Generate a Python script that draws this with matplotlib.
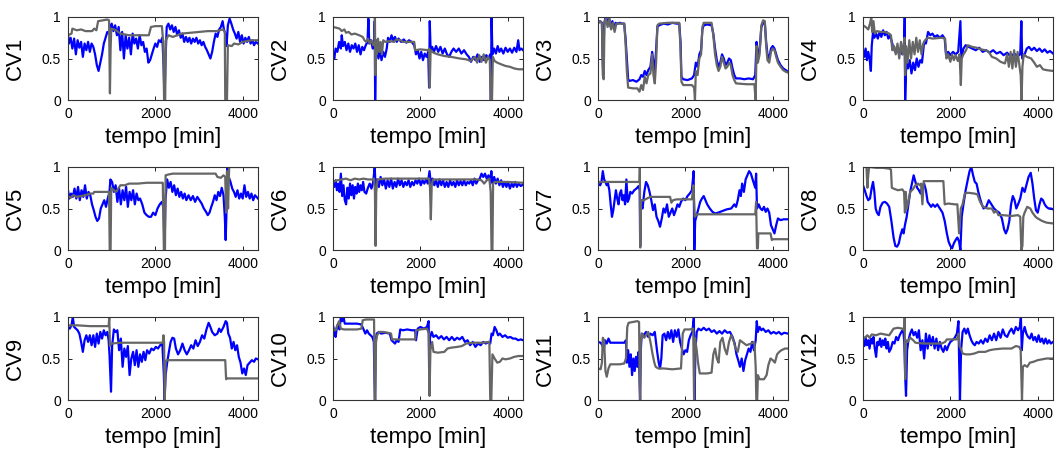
import numpy as np
import matplotlib.pyplot as plt

plt.rcParams['font.family'] = ['Liberation Sans', 'DejaVu Sans']

# (tempo [min], valor normalizado) - azul: medido, cinza: referencia
cv1_med = [(0,.78),(20,.68),(60,.75),(100,.62),(140,.74),(180,.55),(220,.72),(260,.63),(300,.70),(340,.52),(380,.68),(420,.60),(460,.70),(500,.58),(540,.68),(580,.64),(620,.55),(660,.42),(700,.35),(740,.45),(780,.55),(820,.68),(860,.75),(900,.82),(940,.80),(970,.88),(1000,.92),(1040,.83),(1080,.90),(1120,.78),(1160,.88),(1200,.60),(1240,.82),(1280,.50),(1320,.78),(1360,.62),(1400,.75),(1440,.55),(1480,.80),(1520,.68),(1560,.74),(1600,.62),(1640,.78),(1680,.66),(1720,.70),(1760,.58),(1800,.62),(1840,.45),(1880,.48),(1920,.55),(1960,.62),(2000,.68),(2040,.64),(2080,.72),(2120,.70),(2160,.75),(2190,.40),(2210,0),(2230,.45),(2260,.88),(2300,.92),(2340,.85),(2380,.90),(2420,.82),(2460,.88),(2500,.78),(2540,.84),(2580,.75),(2620,.80),(2660,.70),(2700,.76),(2740,.70),(2780,.75),(2820,.68),(2860,.74),(2900,.70),(2940,.75),(2980,.68),(3020,.72),(3060,.66),(3100,.70),(3140,.64),(3180,.60),(3220,.55),(3260,.50),(3300,.58),(3340,.70),(3380,.80),(3420,.76),(3460,.85),(3500,.88),(3540,.95),(3570,.85),(3600,.80),(3630,.65),(3660,.90),(3700,.98),(3740,.92),(3780,.85),(3820,.80),(3860,.74),(3900,.82),(3940,.70),(3980,.78),(4020,.68),(4060,.75),(4100,.70),(4140,.76),(4180,.68),(4220,.72),(4260,.66),(4300,.70),(4350,.68)]
cv1_ref = [(0,.78),(80,.80),(100,.86),(200,.84),(300,.85),(400,.83),(550,.83),(600,.86),(650,.84),(690,.95),(800,.96),(900,.97),(940,.96),(950,.5),(960,.08),(975,.6),(990,.86),(1100,.84),(1200,.80),(1400,.78),(1600,.78),(1850,.78),(1900,.88),(2000,.89),(2150,.89),(2180,.70),(2200,0),(2225,0),(2240,.72),(2300,.78),(2400,.76),(2600,.80),(2800,.81),(3000,.82),(3200,.83),(3400,.83),(3550,.85),(3590,.82),(3600,0),(3640,0),(3660,.66),(3750,.65),(3800,.68),(3900,.67),(4000,.70),(4200,.72),(4350,.72)]

cv2_med = [(0,.55),(30,.50),(60,.62),(100,.58),(140,.70),(180,.62),(200,.78),(230,.65),(270,.70),(310,.60),(350,.68),(390,.58),(430,.66),(470,.62),(510,.68),(550,.58),(590,.66),(630,.55),(670,.64),(710,.60),(750,.66),(790,.70),(810,.98),(830,.68),(870,.72),(910,.62),(940,.70),(955,.95),(965,0),(980,.55),(1010,.62),(1040,.50),(1080,.60),(1110,.48),(1150,.58),(1190,.52),(1230,.62),(1260,.75),(1300,.70),(1340,.78),(1380,.72),(1420,.76),(1460,.70),(1500,.74),(1560,.70),(1620,.73),(1680,.69),(1740,.72),(1800,.70),(1860,.66),(1900,.55),(1940,.60),(1980,.50),(2020,.58),(2060,.48),(2100,.56),(2140,.52),(2180,.58),(2200,.15),(2215,.95),(2235,.60),(2270,.64),(2310,.58),(2360,.65),(2410,.58),(2460,.64),(2510,.56),(2560,.62),(2610,.55),(2660,.52),(2710,.58),(2760,.62),(2820,.58),(2880,.62),(2940,.56),(3000,.60),(3060,.55),(3110,.52),(3160,.46),(3210,.52),(3260,.48),(3310,.55),(3360,.46),(3410,.52),(3460,.48),(3510,.54),(3560,.50),(3600,.55),(3615,0),(3630,1.0),(3650,.55),(3690,.62),(3730,.56),(3770,.65),(3810,.58),(3850,.62),(3900,.56),(3950,.63),(4000,.58),(4050,.62),(4100,.57),(4150,.63),(4200,.58),(4240,.72),(4270,.60),(4310,.62),(4350,.60)]
cv2_ref = [(0,.88),(80,.87),(150,.86),(200,.83),(260,.85),(300,.81),(360,.82),(420,.79),(500,.80),(600,.78),(680,.76),(720,.72),(760,.70),(800,.74),(840,.68),(880,.72),(920,.66),(950,.70),(960,1.0),(970,.30),(985,.72),(1000,.55),(1030,.74),(1060,.58),(1090,.70),(1120,.55),(1150,.72),(1200,.70),(1300,.71),(1400,.70),(1450,.73),(1550,.72),(1600,.70),(1860,.70),(1880,.60),(2000,.61),(2180,.60),(2200,.62),(2215,.15),(2235,.60),(2300,.57),(2400,.55),(2550,.53),(2700,.52),(2900,.50),(3050,.49),(3150,.47),(3250,.52),(3300,.45),(3350,.54),(3400,.46),(3450,.55),(3500,.45),(3550,.52),(3590,.48),(3610,0),(3640,0),(3660,.52),(3700,.47),(3760,.45),(3850,.43),(3950,.41),(4050,.40),(4150,.38),(4250,.37),(4350,.37)]

cv3_med = [(0,.93),(50,.95),(90,.93),(105,.55),(120,.30),(140,.90),(170,1.0),(210,.92),(250,1.0),(290,.88),(330,.95),(370,.85),(400,.93),(450,.92),(500,.93),(560,.92),(600,.92),(630,.75),(660,.50),(690,.25),(720,.23),(800,.24),(880,.22),(950,.25),(990,.30),(1030,.28),(1070,.35),(1110,.30),(1150,.36),(1200,.40),(1240,.58),(1270,.45),(1300,.35),(1330,.60),(1360,.88),(1400,.90),(1500,.92),(1600,.91),(1700,.93),(1800,.92),(1860,.92),(1890,.70),(1910,.28),(1950,.25),(2050,.24),(2150,.26),(2200,.30),(2240,.45),(2280,.40),(2320,.55),(2360,.60),(2390,.85),(2420,.90),(2500,.91),(2600,.90),(2640,.80),(2680,.62),(2720,.48),(2760,.40),(2800,.45),(2840,.55),(2880,.50),(2920,.42),(2960,.45),(3000,.50),(3040,.48),(3080,.38),(3120,.30),(3160,.26),(3250,.26),(3350,.25),(3450,.26),(3550,.25),(3600,.30),(3630,.70),(3660,.55),(3700,.60),(3740,.88),(3780,.93),(3820,.92),(3850,.70),(3880,.55),(3920,.50),(3960,.62),(4000,.65),(4040,.62),(4080,.55),(4120,.48),(4180,.42),(4240,.38),(4300,.36),(4350,.34)]
cv3_ref = [(0,.92),(50,.95),(90,.92),(110,.30),(130,.25),(150,.95),(180,.98),(220,.88),(260,.98),(300,.85),(340,.93),(380,.82),(420,.92),(600,.92),(630,.70),(660,.35),(690,.15),(800,.14),(900,.14),(950,.10),(990,.18),(1030,.12),(1070,.28),(1110,.20),(1150,.30),(1200,.32),(1240,.55),(1270,.30),(1300,.20),(1330,.45),(1360,.90),(1400,.92),(1600,.93),(1860,.93),(1890,.60),(1910,.22),(1950,.18),(2150,.18),(2200,.15),(2220,0),(2240,.35),(2280,.30),(2320,.50),(2360,.55),(2390,.88),(2420,.93),(2600,.93),(2640,.78),(2680,.55),(2720,.42),(2760,.35),(2800,.40),(2840,.52),(2880,.45),(2920,.38),(2960,.40),(3000,.45),(3040,.42),(3080,.30),(3120,.24),(3160,.20),(3400,.19),(3580,.19),(3610,0),(3630,.65),(3660,.45),(3700,.55),(3740,.90),(3780,.96),(3820,.95),(3850,.65),(3880,.48),(3920,.45),(3960,.58),(4000,.62),(4040,.60),(4080,.52),(4120,.45),(4180,.40),(4240,.36),(4300,.34),(4350,.33)]

cv4_med = [(0,.60),(30,.52),(60,.62),(90,.48),(120,.58),(150,.50),(180,.35),(200,.65),(230,.82),(260,.75),(300,.80),(340,.74),(380,.82),(420,.76),(460,.84),(500,.78),(540,.82),(580,.74),(620,.78),(660,.70),(700,.62),(740,.58),(780,.64),(820,.56),(860,.62),(900,.55),(940,.60),(955,1.0),(965,0),(990,.45),(1030,.38),(1070,.48),(1110,.32),(1150,.45),(1190,.36),(1230,.50),(1270,.40),(1310,.48),(1350,.45),(1400,.70),(1440,.68),(1490,.82),(1540,.78),(1590,.80),(1640,.76),(1700,.78),(1760,.75),(1820,.78),(1870,.74),(1900,.55),(1950,.58),(2000,.54),(2060,.58),(2120,.55),(2180,.58),(2230,.95),(2250,.50),(2300,.62),(2350,.66),(2420,.64),(2500,.62),(2580,.60),(2660,.63),(2740,.58),(2820,.60),(2900,.57),(2980,.60),(3060,.56),(3140,.58),(3220,.54),(3300,.57),(3380,.52),(3460,.56),(3540,.53),(3600,.55),(3625,.95),(3645,.50),(3700,.55),(3750,.62),(3800,.64),(3860,.60),(3920,.63),(3980,.59),(4040,.62),(4100,.58),(4160,.61),(4220,.57),(4280,.59),(4350,.56)]
cv4_ref = [(0,.90),(60,.88),(120,.85),(160,.92),(190,1.0),(210,.82),(240,.95),(270,.80),(320,.83),(400,.82),(500,.82),(600,.80),(640,.78),(670,.60),(710,.65),(750,.55),(790,.68),(830,.50),(870,.70),(910,.55),(950,.75),(965,.30),(985,.65),(1020,.45),(1060,.72),(1100,.50),(1140,.70),(1180,.55),(1220,.75),(1260,.58),(1300,.72),(1340,.55),(1380,.68),(1420,.72),(1480,.75),(1600,.74),(1800,.75),(1880,.74),(1910,.50),(1950,.55),(2000,.46),(2040,.55),(2080,.48),(2120,.54),(2170,.47),(2210,.55),(2240,.18),(2260,.50),(2300,.55),(2360,.60),(2400,.66),(2500,.64),(2600,.63),(2700,.61),(2800,.60),(2880,.58),(2950,.52),(3050,.50),(3150,.46),(3250,.44),(3300,.55),(3340,.40),(3380,.58),(3420,.38),(3460,.60),(3500,.40),(3540,.58),(3580,.42),(3610,.30),(3630,0),(3650,.40),(3680,.55),(3750,.52),(3850,.50),(3920,.45),(3980,.40),(4050,.42),(4120,.37),(4200,.36),(4350,.35)]

cv5_med = [(0,.72),(30,.62),(70,.68),(110,.64),(150,.74),(190,.62),(230,.76),(270,.60),(310,.72),(350,.64),(390,.78),(430,.62),(470,.70),(510,.66),(550,.55),(590,.48),(630,.40),(670,.35),(710,.38),(750,.50),(790,.55),(830,.60),(870,.52),(910,.62),(950,.70),(970,.85),(1010,.82),(1050,.70),(1090,.78),(1130,.58),(1170,.74),(1210,.55),(1250,.72),(1290,.60),(1330,.76),(1370,.52),(1410,.70),(1450,.60),(1490,.72),(1530,.55),(1570,.68),(1610,.60),(1650,.62),(1700,.55),(1750,.45),(1800,.42),(1850,.40),(1900,.40),(1950,.45),(2000,.42),(2050,.50),(2100,.55),(2150,.58),(2190,.50),(2210,0),(2230,.60),(2270,.85),(2310,.75),(2350,.82),(2390,.70),(2430,.78),(2470,.66),(2510,.74),(2550,.64),(2590,.70),(2630,.62),(2670,.68),(2710,.60),(2760,.66),(2810,.60),(2860,.65),(2910,.58),(2960,.64),(3010,.60),(3060,.56),(3110,.50),(3160,.46),(3200,.42),(3240,.45),(3280,.52),(3320,.58),(3360,.66),(3400,.60),(3440,.70),(3480,.65),(3520,.75),(3560,.66),(3590,.40),(3610,.12),(3630,.50),(3650,1.0),(3680,.88),(3720,.82),(3760,.74),(3800,.70),(3840,.64),(3880,.72),(3920,.62),(3960,.68),(4000,.62),(4040,.78),(4080,.64),(4120,.70),(4160,.62),(4200,.68),(4240,.60),(4280,.66),(4350,.62)]
cv5_ref = [(0,.65),(60,.63),(120,.66),(200,.64),(300,.65),(400,.66),(500,.68),(580,.68),(600,.70),(700,.70),(800,.70),(900,.70),(940,.70),(955,0),(975,0),(990,.75),(1050,.72),(1100,.70),(1150,.74),(1200,.78),(1300,.78),(1400,.80),(1600,.80),(1800,.81),(2000,.81),(2170,.81),(2195,0),(2220,0),(2235,.90),(2300,.91),(2400,.92),(2800,.92),(3200,.92),(3380,.92),(3420,.88),(3500,.87),(3560,.90),(3600,.88),(3620,.45),(3640,.95),(3665,.50),(3690,1.0),(3800,1.0),(4350,1.0)]

cv6_med = [(0,.82),(30,.76),(60,.84),(90,.72),(120,.80),(150,.70),(180,.92),(210,.65),(240,.78),(270,.60),(300,.55),(330,.75),(360,.62),(390,.80),(420,.66),(450,.78),(480,.62),(510,.76),(540,.68),(570,.80),(600,.70),(630,.78),(660,.72),(690,.82),(720,.70),(760,.68),(800,.75),(840,.80),(880,.74),(920,.82),(955,1.0),(975,.75),(1010,.85),(1050,.76),(1090,.88),(1130,.78),(1170,.85),(1210,.74),(1250,.84),(1290,.76),(1330,.86),(1370,.74),(1410,.82),(1450,.76),(1490,.86),(1530,.78),(1570,.84),(1610,.76),(1650,.82),(1690,.78),(1730,.84),(1770,.76),(1810,.82),(1850,.78),(1890,.84),(1930,.80),(1970,.86),(2010,.78),(2050,.84),(2090,.80),(2130,.85),(2170,.80),(2210,.95),(2240,.80),(2280,.86),(2320,.78),(2360,.84),(2400,.76),(2440,.85),(2480,.78),(2520,.84),(2560,.76),(2600,.82),(2640,.76),(2680,.84),(2720,.78),(2760,.82),(2800,.76),(2840,.84),(2880,.78),(2920,.83),(2960,.78),(3000,.84),(3040,.78),(3080,.82),(3120,.80),(3160,.84),(3200,.78),(3240,.86),(3280,.80),(3320,.84),(3360,.86),(3400,.92),(3440,.88),(3480,.92),(3520,.86),(3560,.90),(3600,.82),(3625,.95),(3650,.80),(3690,.88),(3730,.80),(3770,.86),(3810,.78),(3850,.84),(3890,.76),(3930,.82),(3970,.76),(4010,.82),(4050,.74),(4090,.80),(4130,.76),(4170,.82),(4210,.76),(4250,.80),(4300,.77),(4350,.79)]
cv6_ref = [(0,.82),(100,.84),(200,.85),(300,.86),(400,.84),(500,.86),(600,.85),(700,.86),(800,.85),(900,.85),(940,.86),(960,.70),(975,.05),(990,.70),(1020,.85),(1200,.86),(1500,.86),(1800,.86),(2100,.86),(2200,.86),(2220,.75),(2240,.37),(2260,.78),(2290,.85),(2600,.85),(3000,.85),(3300,.85),(3400,.84),(3460,.80),(3520,.84),(3580,.86),(3610,.70),(3630,0),(3650,0),(3665,.80),(3700,.82),(4000,.82),(4350,.81)]

cv7_med = [(0,.80),(50,.78),(80,.82),(110,.95),(140,.85),(170,.82),(200,.78),(230,.80),(260,.72),(290,.55),(320,.40),(350,.48),(380,.60),(410,.72),(440,.62),(470,.55),(500,.68),(530,.72),(560,.60),(590,.66),(620,.55),(650,.85),(680,.58),(710,.62),(740,.70),(780,.68),(830,.72),(880,.74),(930,.77),(955,.72),(965,.05),(985,.55),(1020,.50),(1060,.70),(1100,.82),(1140,.78),(1180,.70),(1220,.60),(1260,.48),(1300,.55),(1340,.40),(1380,.35),(1420,.28),(1460,.38),(1500,.50),(1540,.45),(1580,.55),(1620,.40),(1660,.45),(1700,.50),(1740,.42),(1780,.48),(1820,.55),(1860,.52),(1900,.58),(1950,.62),(2000,.60),(2050,.65),(2100,.68),(2150,.72),(2190,.95),(2205,0),(2225,.35),(2260,.42),(2300,.50),(2340,.58),(2380,.62),(2420,.65),(2460,.60),(2500,.55),(2560,.50),(2620,.46),(2680,.44),(2750,.45),(2850,.47),(2950,.49),(3050,.50),(3120,.55),(3160,.52),(3200,.60),(3240,.72),(3270,.65),(3300,.80),(3340,.70),(3380,.85),(3420,.90),(3460,.95),(3500,.92),(3540,.85),(3570,.80),(3600,.75),(3620,.92),(3640,.50),(3680,.55),(3720,.50),(3760,.48),(3800,.52),(3840,.46),(3880,.50),(3920,.45),(3960,.30),(4000,.25),(4040,.20),(4080,.30),(4120,.38),(4180,.36),(4250,.37),(4350,.37)]
cv7_ref = [(0,.82),(200,.82),(500,.82),(800,.82),(950,.82),(958,1.0),(968,.03),(985,.60),(1050,.60),(1120,.62),(1200,.64),(1300,.64),(1500,.64),(1650,.64),(1680,.57),(1720,.60),(1800,.61),(2000,.61),(2150,.61),(2185,.78),(2200,.60),(2215,.40),(2260,.43),(2400,.43),(2800,.43),(3200,.43),(3600,.43),(3620,.58),(3640,.02),(3660,.02),(3670,.20),(3800,.20),(3950,.20),(3980,.12),(4000,.13),(4200,.13),(4350,.13)]

cv8_med = [(0,.78),(40,.72),(80,.65),(120,.60),(160,.62),(200,.75),(230,.82),(260,.70),(290,.50),(320,.45),(360,.42),(400,.52),(450,.57),(500,.58),(550,.56),(600,.52),(650,.35),(700,.15),(740,.05),(780,.04),(820,.08),(860,.18),(900,.25),(930,.20),(960,.30),(1000,.40),(1040,.55),(1080,.70),(1120,.80),(1160,.90),(1200,.82),(1240,.75),(1280,.72),(1320,.68),(1360,.78),(1400,.80),(1440,.72),(1480,.58),(1520,.55),(1560,.52),(1600,.55),(1650,.52),(1700,.55),(1760,.50),(1820,.45),(1870,.35),(1920,.20),(1960,.10),(2000,.05),(2040,.02),(2080,.08),(2120,.12),(2160,.15),(2200,.10),(2230,0),(2260,.40),(2300,.55),(2350,.72),(2400,.85),(2440,.95),(2480,1.0),(2520,.90),(2560,.82),(2600,.80),(2640,.70),(2680,.62),(2720,.55),(2760,.50),(2820,.52),(2880,.60),(2940,.55),(3000,.50),(3060,.47),(3120,.45),(3180,.38),(3230,.25),(3270,.20),(3310,.25),(3350,.35),(3390,.55),(3430,.65),(3470,.60),(3510,.50),(3550,.55),(3600,.62),(3650,.75),(3700,.70),(3740,.78),(3790,.88),(3840,.93),(3880,.80),(3920,.62),(3960,.48),(4000,.45),(4040,.55),(4080,.62),(4120,.60),(4160,.55),(4200,.52),(4250,.50),(4300,.50),(4350,.49)]
cv8_ref = [(0,1.0),(80,1.0),(100,.75),(120,.90),(140,1.0),(300,.99),(450,.99),(600,.98),(640,.97),(660,.75),(700,.74),(800,.72),(900,.73),(940,.70),(960,.45),(980,.70),(1000,.50),(1040,.58),(1080,.70),(1140,.73),(1200,.78),(1260,.80),(1300,.78),(1330,.80),(1360,.55),(1390,.83),(1500,.83),(1700,.83),(1840,.83),(1870,.55),(1950,.56),(2100,.55),(2160,.55),(2200,.20),(2240,.50),(2280,.55),(2330,.68),(2400,.69),(2550,.68),(2620,.67),(2680,.58),(2750,.52),(2850,.50),(2950,.50),(3000,.45),(3060,.47),(3100,.42),(3200,.42),(3400,.41),(3550,.42),(3600,.40),(3625,0),(3650,.05),(3670,.40),(3700,.45),(3760,.52),(3830,.50),(3880,.45),(3950,.40),(4000,.38),(4100,.35),(4200,.33),(4350,.32)]

cv9_med = [(0,.88),(40,.86),(80,.90),(110,1.0),(140,.88),(180,.86),(220,.84),(260,.80),(300,.70),(340,.58),(380,.72),(420,.78),(460,.70),(500,.78),(540,.66),(580,.78),(620,.64),(660,.80),(700,.68),(740,.82),(780,.74),(820,.84),(860,.78),(900,.82),(930,.72),(950,.55),(985,.10),(1010,.65),(1050,.85),(1090,.82),(1130,.84),(1170,.60),(1210,.74),(1250,.40),(1290,.62),(1330,.52),(1370,.65),(1410,.30),(1450,.50),(1490,.58),(1530,.42),(1570,.60),(1610,.40),(1650,.55),(1690,.46),(1730,.58),(1770,.48),(1810,.60),(1860,.56),(1910,.62),(1960,.60),(2010,.64),(2060,.62),(2110,.66),(2160,.68),(2195,.30),(2210,0),(2235,.30),(2270,.45),(2310,.58),(2350,.70),(2390,.75),(2430,.74),(2470,.62),(2520,.55),(2570,.60),(2620,.68),(2670,.60),(2720,.55),(2770,.60),(2820,.66),(2870,.62),(2920,.72),(2970,.65),(3020,.70),(3070,.78),(3120,.74),(3170,.85),(3220,.93),(3260,.88),(3300,.82),(3360,.78),(3420,.80),(3460,.86),(3500,.82),(3560,.88),(3610,.95),(3640,.93),(3670,.80),(3710,.75),(3750,.62),(3790,.70),(3830,.60),(3870,.66),(3910,.52),(3950,.45),(3990,.32),(4030,.38),(4070,.30),(4110,.42),(4160,.45),(4210,.48),(4260,.46),(4300,.50),(4350,.49)]
cv9_ref = [(0,.90),(200,.90),(500,.89),(800,.89),(930,.89),(945,1.0),(960,.65),(985,.68),(1200,.69),(1600,.69),(2000,.69),(2170,.69),(2185,.78),(2200,.70),(2215,0),(2235,.45),(2260,.48),(2600,.48),(3000,.48),(3400,.48),(3600,.48),(3620,.25),(3640,.26),(3700,.26),(4000,.26),(4350,.26)]

cv10_med = [(0,.90),(30,.82),(60,.76),(90,.88),(120,.92),(150,.85),(180,1.0),(210,.95),(240,1.0),(270,.92),(350,.92),(450,.92),(550,.92),(650,.91),(700,.85),(740,.80),(780,.84),(820,.80),(860,.78),(900,.76),(935,.70),(950,.25),(962,0),(975,.70),(1000,.80),(1050,.82),(1100,.80),(1200,.81),(1300,.80),(1340,.72),(1380,.70),(1420,.68),(1460,.72),(1500,.70),(1540,.85),(1600,.84),(1700,.85),(1800,.84),(1880,.84),(1900,.72),(1940,.86),(2000,.88),(2080,.86),(2150,.88),(2190,.95),(2205,.10),(2220,.75),(2260,.82),(2300,.76),(2360,.78),(2420,.74),(2480,.77),(2540,.73),(2600,.76),(2660,.72),(2720,.76),(2780,.72),(2840,.75),(2900,.73),(2960,.76),(3020,.70),(3080,.72),(3140,.66),(3200,.70),(3260,.64),(3320,.68),(3380,.66),(3440,.70),(3500,.68),(3560,.70),(3600,.68),(3630,.80),(3660,.78),(3700,.88),(3740,.84),(3780,.78),(3820,.80),(3880,.76),(3940,.78),(4000,.75),(4060,.76),(4120,.74),(4180,.74),(4240,.72),(4300,.73),(4350,.72)]
cv10_ref = [(0,.85),(60,.84),(100,.90),(140,.95),(180,.86),(250,.85),(400,.85),(550,.85),(650,.86),(680,.96),(750,.97),(850,.97),(940,.97),(955,0),(970,0),(985,.70),(1010,.78),(1060,.82),(1150,.82),(1250,.81),(1330,.80),(1350,.73),(1500,.73),(1700,.73),(1880,.73),(1900,.84),(2000,.85),(2150,.86),(2195,.80),(2210,.05),(2230,.60),(2270,.70),(2300,.58),(2400,.57),(2550,.58),(2620,.62),(2700,.63),(2850,.64),(2950,.65),(3050,.68),(3200,.69),(3400,.69),(3580,.70),(3600,0),(3625,0),(3650,.55),(3700,.50),(3760,.45),(3820,.46),(3880,.50),(3950,.49),(4050,.50),(4150,.52),(4250,.53),(4350,.53)]

cv11_med = [(0,.70),(60,.69),(100,.66),(130,.60),(160,.72),(200,.68),(240,.74),(280,.69),(400,.69),(500,.69),(600,.69),(640,.72),(660,.45),(690,.60),(720,.40),(750,.55),(780,.30),(810,.50),(840,.35),(870,.52),(900,.40),(930,.58),(950,.30),(962,0),(980,.60),(1000,.80),(1050,.78),(1100,.82),(1150,.76),(1200,.80),(1250,.78),(1300,.82),(1350,.60),(1390,.45),(1420,.38),(1450,.50),(1480,.78),(1520,.80),(1560,.72),(1600,.82),(1640,.74),(1680,.84),(1720,.70),(1760,.84),(1800,.76),(1840,.85),(1880,.70),(1920,.62),(1960,.55),(2000,.60),(2040,.58),(2080,.72),(2120,.78),(2160,.82),(2195,1.0),(2210,0),(2230,.60),(2260,.82),(2300,.86),(2360,.84),(2420,.87),(2480,.84),(2540,.86),(2600,.82),(2660,.84),(2720,.80),(2780,.83),(2840,.80),(2900,.84),(2960,.81),(3020,.82),(3080,.76),(3130,.68),(3170,.55),(3210,.48),(3250,.40),(3290,.50),(3330,.35),(3370,.48),(3410,.55),(3450,.62),(3490,.58),(3530,.70),(3570,.60),(3610,.72),(3635,.95),(3660,.82),(3700,.88),(3740,.84),(3780,.86),(3840,.82),(3900,.84),(3960,.80),(4020,.82),(4080,.80),(4140,.82),(4200,.79),(4260,.81),(4350,.80)]
cv11_ref = [(0,.38),(60,.37),(90,.45),(110,.75),(140,.72),(170,.35),(200,.28),(240,.38),(280,.43),(400,.43),(500,.43),(600,.44),(640,.50),(670,.88),(700,.93),(800,.94),(900,.95),(940,.94),(955,.20),(965,0),(980,.70),(1010,.80),(1060,.75),(1100,.78),(1150,.82),(1200,.70),(1250,.55),(1290,.45),(1320,.40),(1380,.38),(1500,.38),(1700,.37),(1900,.38),(1940,.80),(1980,.85),(2100,.85),(2180,.86),(2200,0),(2220,.75),(2260,.60),(2290,.45),(2330,.32),(2400,.32),(2500,.32),(2600,.33),(2640,.55),(2680,.62),(2720,.50),(2760,.45),(2800,.70),(2850,.75),(2900,.62),(2950,.55),(3000,.70),(3050,.78),(3100,.72),(3150,.62),(3200,.58),(3250,.72),(3300,.70),(3400,.66),(3500,.68),(3580,.70),(3610,.40),(3625,0),(3645,0),(3660,.30),(3700,.25),(3800,.25),(3860,.30),(3900,.42),(3950,.50),(4000,.48),(4050,.45),(4100,.55),(4150,.58),(4200,.60),(4280,.62),(4350,.62)]

cv12_med = [(0,.70),(30,.65),(60,.75),(90,.66),(120,.72),(150,.62),(180,.74),(210,.68),(240,.76),(270,.62),(300,.52),(330,.70),(360,.66),(390,.74),(420,.64),(450,.72),(480,.66),(510,.74),(540,.62),(570,.70),(600,.58),(640,.62),(680,.70),(720,.68),(760,.76),(800,.72),(840,.78),(880,.82),(920,.85),(945,.70),(965,.30),(985,.05),(1010,.60),(1040,.72),(1080,.80),(1120,.85),(1160,.78),(1200,.82),(1240,.75),(1280,.84),(1320,.60),(1360,.72),(1400,.50),(1440,.80),(1480,.62),(1520,.78),(1560,.66),(1600,.76),(1640,.62),(1680,.74),(1720,.60),(1760,.70),(1800,.62),(1840,.58),(1880,.65),(1920,.60),(1960,.66),(2000,.70),(2050,.72),(2100,.75),(2150,.80),(2185,.95),(2200,.50),(2220,0),(2245,.60),(2280,.82),(2320,.86),(2360,.80),(2400,.86),(2440,.78),(2480,.72),(2520,.68),(2560,.66),(2600,.70),(2650,.68),(2700,.72),(2750,.68),(2800,.74),(2850,.70),(2900,.78),(2950,.72),(3000,.80),(3050,.72),(3100,.82),(3150,.75),(3200,.85),(3250,.78),(3300,.76),(3350,.82),(3400,.86),(3450,.80),(3500,.88),(3550,.84),(3590,.88),(3615,1.0),(3635,.60),(3660,.80),(3700,.88),(3740,.80),(3780,.76),(3820,.74),(3860,.80),(3900,.72),(3940,.76),(3980,.70),(4020,.78),(4060,.70),(4100,.74),(4140,.68),(4180,.74),(4220,.68),(4260,.72),(4300,.68),(4350,.70)]
cv12_ref = [(0,.74),(60,.76),(100,.78),(150,.75),(200,.79),(300,.78),(400,.80),(500,.79),(600,.78),(650,.82),(700,.86),(800,.87),(900,.86),(940,.84),(955,1.0),(965,.25),(985,.72),(1020,.70),(1080,.75),(1150,.72),(1200,.69),(1400,.68),(1600,.68),(1800,.68),(1880,.70),(1920,.73),(2050,.73),(2150,.73),(2190,.80),(2210,.65),(2240,.62),(2280,.56),(2350,.55),(2450,.55),(2550,.56),(2650,.58),(2800,.58),(2900,.60),(3000,.61),(3200,.62),(3400,.62),(3500,.65),(3580,.64),(3610,.60),(3640,0),(3660,.40),(3700,.42),(3760,.40),(3820,.45),(3900,.46),(4000,.48),(4100,.49),(4200,.50),(4350,.50)]

nomes = ['CV1', 'CV2', 'CV3', 'CV4', 'CV5', 'CV6',
         'CV7', 'CV8', 'CV9', 'CV10', 'CV11', 'CV12']
series = [(cv1_med, cv1_ref), (cv2_med, cv2_ref), (cv3_med, cv3_ref),
          (cv4_med, cv4_ref), (cv5_med, cv5_ref), (cv6_med, cv6_ref),
          (cv7_med, cv7_ref), (cv8_med, cv8_ref), (cv9_med, cv9_ref),
          (cv10_med, cv10_ref), (cv11_med, cv11_ref), (cv12_med, cv12_ref)]

W, H = 1057, 450
fig = plt.figure(figsize=(W / 100, H / 100), dpi=100)

for k, (med, ref) in enumerate(series):
    lin, col = divmod(k, 4)
    x0 = 68 + 265 * col
    y0 = 17 + 150 * lin
    ax = fig.add_axes([x0 / W, (H - y0 - 83) / H, 190 / W, 83 / H])

    med = np.array(med)
    ref = np.array(ref)
    ax.plot(med[:, 0], med[:, 1], color='#0000ff', lw=1.6)
    ax.plot(ref[:, 0], ref[:, 1], color='#666666', lw=1.6)

    ax.set_xlim(0, 4350)
    ax.set_ylim(0, 1)
    ax.set_xticks([0, 2000, 4000])
    ax.set_yticks([0, 0.5, 1])
    ax.set_yticklabels(['0', '0.5', '1'])
    ax.tick_params(direction='in', length=3, width=0.6, top=True, right=True,
                   labelsize=10, pad=5)
    for s in ax.spines.values():
        s.set_color('#333333')
        s.set_linewidth(0.8)

    ax.set_ylabel(nomes[k], fontsize=16)
    ax.yaxis.set_label_coords(-0.22, 0.5)
    ax.set_xlabel('tempo [min]', fontsize=16, labelpad=4)

fig.savefig('out.png', dpi=100)
